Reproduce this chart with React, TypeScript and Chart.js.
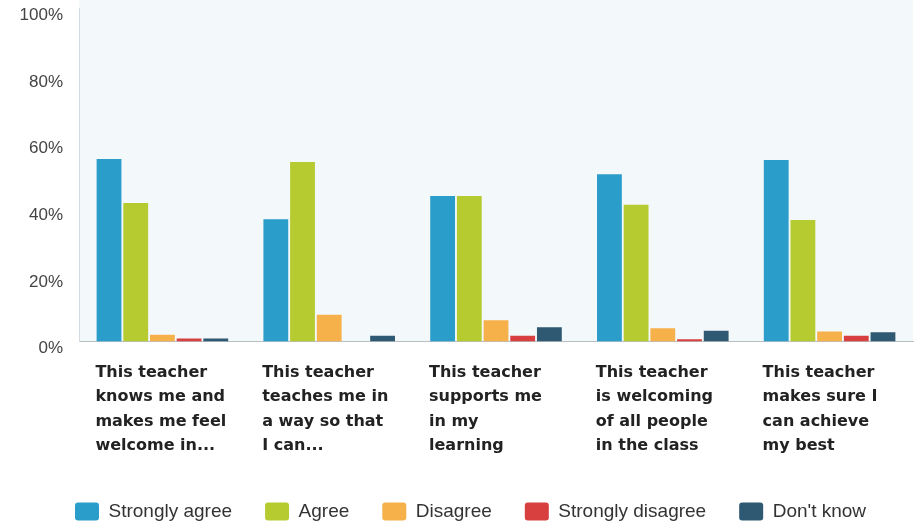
import React, { useEffect, useRef } from 'react';
import { Chart, registerables } from 'chart.js';

Chart.register(...registerables);

const categories: string[][] = [
  ['This teacher', 'knows me and', 'makes me feel', 'welcome in...'],
  ['This teacher', 'teaches me in', 'a way so that', 'I can...'],
  ['This teacher', 'supports me', 'in my', 'learning'],
  ['This teacher', 'is welcoming', 'of all people', 'in the class'],
  ['This teacher', 'makes sure I', 'can achieve', 'my best'],
];

const seriesNames = ['Strongly agree', 'Agree', 'Disagree', 'Strongly disagree', "Don't know"];
const stronglyAgree = [54.8, 36.7, 43.7, 50.2, 54.5];
const agree = [41.6, 53.9, 43.7, 41.1, 36.5];
const disagree = [2.0, 8.0, 6.4, 4.0, 3.0];
const stronglyDisagree = [0.9, 0, 1.7, 0.7, 1.7];
const dontKnow = [0.9, 1.7, 4.3, 3.2, 2.8];

const yMin = 0;
const yMax = 100;
const yStep = 20;

const seriesColors = ['#2b9dca', '#b6cb2f', '#f6b14b', '#d8403f', '#2f5973'];

const plotBackground = {
  id: 'plotBackground',
  afterLayout(chart: any) {
    // let the y-axis labels extend to the left of the axis box without being clipped
    if (chart.scales.y) chart.scales.y.left = 0;
  },
  beforeDraw(chart: any) {
    const { ctx, chartArea } = chart;
    ctx.save();
    ctx.fillStyle = '#f3f8fb';
    ctx.fillRect(chartArea.left, 0, chartArea.right - chartArea.left, chartArea.bottom);
    ctx.restore();
  },
};

export default function App() {
  const canvasRef = useRef<HTMLCanvasElement | null>(null);

  useEffect(() => {
    if (!canvasRef.current) return;
    const values = [stronglyAgree, agree, disagree, stronglyDisagree, dontKnow];
    const chart = new Chart(canvasRef.current, {
      type: 'bar',
      data: {
        labels: categories,
        datasets: values.map((data, i) => ({
          label: seriesNames[i],
          data,
          backgroundColor: seriesColors[i],
          borderWidth: 0,
          categoryPercentage: 0.8,
          barPercentage: 0.93,
        })),
      },
      plugins: [plotBackground],
      options: {
        animation: false,
        responsive: true,
        maintainAspectRatio: false,
        layout: { padding: { left: 42, right: 3, top: 8.5, bottom: -9 } },
        plugins: {
          tooltip: { enabled: false },
          legend: {
            position: 'bottom',
            align: 'start',
            labels: {
              boxWidth: 24,
              boxHeight: 18,
              useBorderRadius: true,
              borderRadius: 3,
              padding: 33,
              color: '#333',
              font: { family: "'Liberation Sans', Arial, sans-serif", size: 19 },
            },
          },
        },
        scales: {
          x: {
            grid: { display: false, drawTicks: false },
            border: { display: true, color: '#b9bec2', width: 1 },
            ticks: {
              align: 'start',
              labelOffset: -67,
              padding: 19,
              autoSkip: false,
              maxRotation: 0,
              minRotation: 0,
              color: '#222',
              font: { family: "'DejaVu Sans', sans-serif", size: 16, weight: 'bold', lineHeight: 1.53 },
            },
            afterFit(scale: any) {
              scale.height = 127.5;
              scale.paddingLeft = 0;
              scale.paddingRight = 0;
            },
          },
          y: {
            min: yMin,
            max: yMax,
            grid: { display: false, drawTicks: false },
            border: { display: true, color: '#d3dbe0', width: 1 },
            ticks: {
              stepSize: yStep,
              padding: 16,
              labelOffset: 7,
              color: '#444',
              font: { family: "'Liberation Sans', Arial, sans-serif", size: 17 },
              callback: (v: any) => `${v}%`,
            },
            afterFit(scale: any) {
              scale.width = 37;
              scale.paddingTop = 0;
              scale.paddingBottom = 0;
            },
          },
        },
      } as any,
    });
    return () => chart.destroy();
  }, []);

  return (
    <div style={{ position: 'fixed', left: 0, top: 0, width: 916, height: 522, background: '#fff' }}>
      <canvas ref={canvasRef} />
    </div>
  );
}
